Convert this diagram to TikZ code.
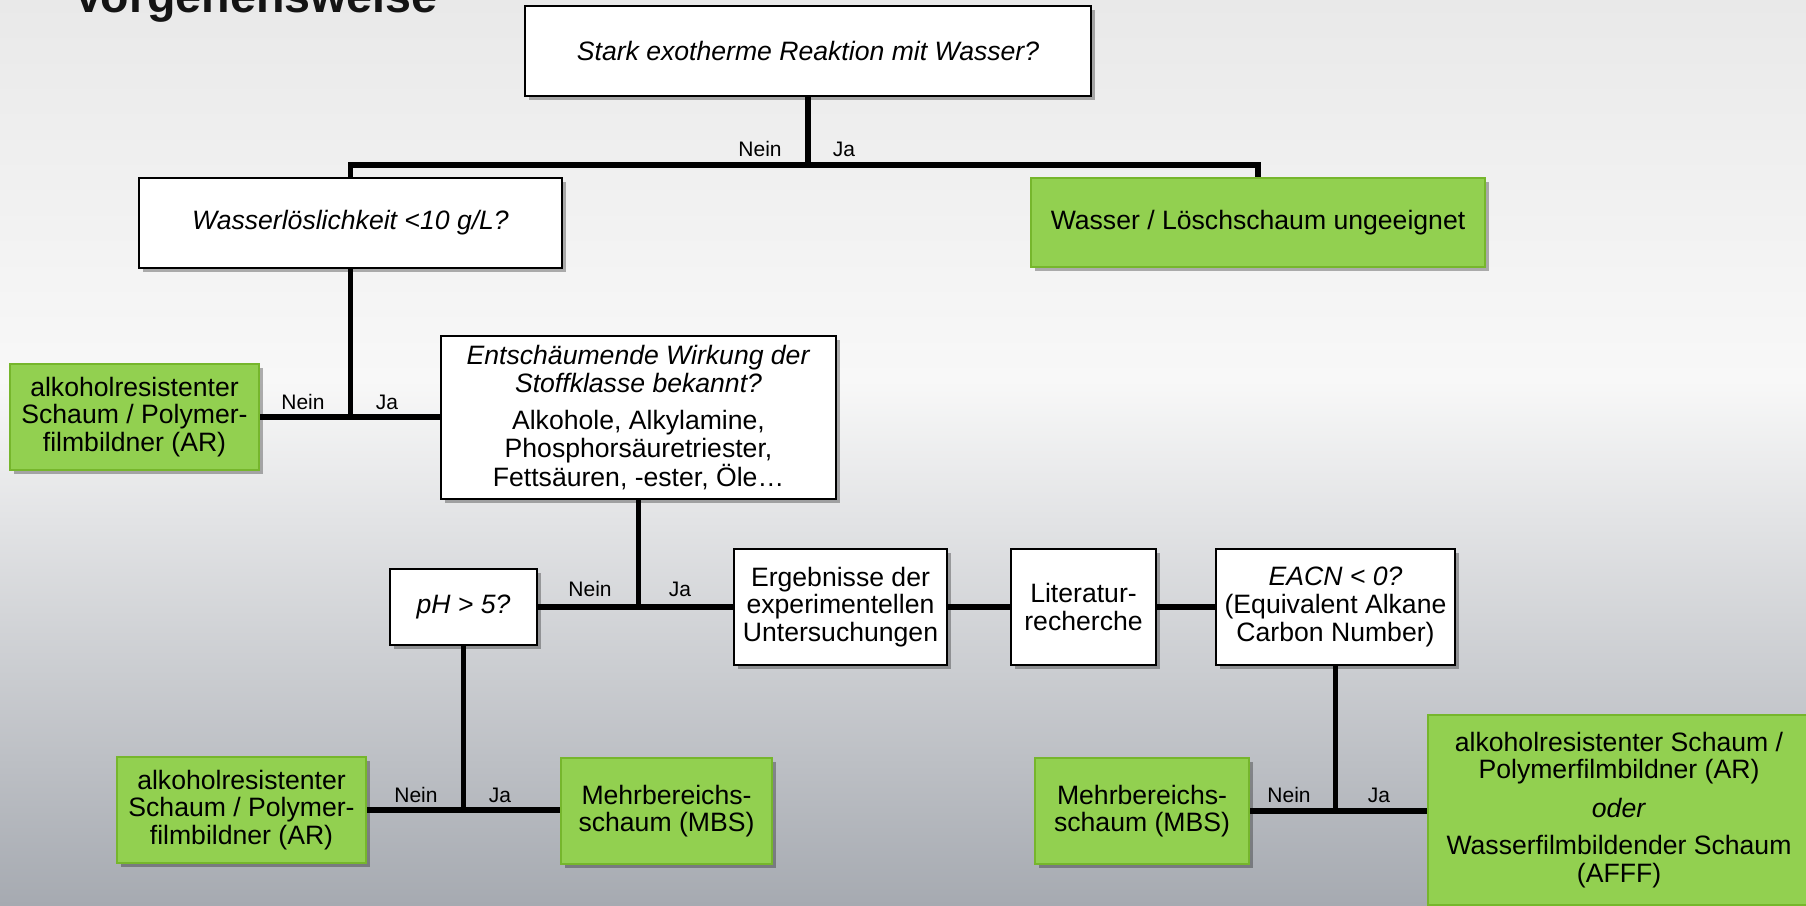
\documentclass[tikz,border=0pt]{standalone}
\usepackage{fontspec}
\setmainfont{Liberation Sans}
\usetikzlibrary{shadows}
\definecolor{grn}{RGB}{146,208,80}
\definecolor{grnb}{RGB}{118,182,44}
\definecolor{bgtop}{RGB}{233,233,233}
\definecolor{bgmid}{RGB}{248,248,248}
\definecolor{bgbot}{RGB}{166,170,177}
\tikzset{
  basebox/.style={font=\fontsize{26.6}{27.6}\selectfont, align=center, inner sep=0pt,
    drop shadow={shadow xshift=3.5pt, shadow yshift=-4pt, opacity=0.3, fill=black}},
  qbox/.style={basebox, draw=black, line width=1.8pt, fill=white},
  gbox/.style={basebox, draw=grnb, line width=2.6pt, fill=grn},
  conn/.style={line width=5.2pt, line join=miter, draw=black},
  lbl/.style={font=\fontsize{21}{24}\selectfont, inner sep=0pt}
}
\begin{document}
\begin{tikzpicture}[x=1pt,y=1pt]
\clip (0,0) rectangle (1806,-905);
\shade[top color=bgtop, bottom color=bgmid] (0,0) rectangle (1806,-380);
\shade[top color=bgmid, bottom color=bgbot] (0,-380) rectangle (1806,-905);

\node[anchor=base west, inner sep=0pt, font=\fontsize{46.6}{50}\selectfont\bfseries, text=black!92] (title) at (73,-12) {Vorgehensweise};

% nodes
\node[qbox, minimum width=566, minimum height=90] (q1) at (808,-51) {\textit{Stark exotherme Reaktion mit Wasser?}};
\node[gbox, minimum width=454, minimum height=89] (w) at (1258,-222.5) {Wasser / Löschschaum ungeeignet};
\node[qbox, minimum width=423, minimum height=90] (q2) at (350.5,-223) {\textit{Wasserlöslichkeit <10 g/L?}};
\node[gbox, minimum width=249, minimum height=106] (ar1) at (134.5,-417) {alkoholresistenter\\Schaum / Polymer-\\filmbildner (AR)};
\node[qbox, minimum width=395, minimum height=163] (q3) at (638.5,-417.5) {\textit{Entschäumende Wirkung der}\\\textit{Stoffklasse bekannt?}\\[10pt]Alkohole, Alkylamine,\\Phosphorsäuretriester,\\Fettsäuren, -ester, Öle…};
\node[qbox, minimum width=147, minimum height=76] (ph) at (463.5,-607) {\textit{pH > 5?}};
\node[qbox, minimum width=213, minimum height=116] (erg) at (840.5,-607) {Ergebnisse der\\experimentellen\\Untersuchungen};
\node[qbox, minimum width=145, minimum height=116] (lit) at (1083.5,-607) {Literatur-\\recherche};
\node[qbox, minimum width=239, minimum height=116] (eacn) at (1335.5,-607) {\textit{EACN < 0?}\\(Equivalent Alkane\\Carbon Number)};
\node[gbox, minimum width=249, minimum height=106] (ar2) at (241.5,-810) {alkoholresistenter\\Schaum / Polymer-\\filmbildner (AR)};
\node[gbox, minimum width=211, minimum height=106] (mbs1) at (666.5,-811) {Mehrbereichs-\\schaum (MBS)};
\node[gbox, minimum width=214, minimum height=106] (mbs2) at (1142,-811) {Mehrbereichs-\\schaum (MBS)};
\node[gbox, minimum width=382, minimum height=190] (ar3) at (1619,-810) {alkoholresistenter Schaum /\\Polymerfilmbildner (AR)\\[11pt]\textit{oder}\\[10pt]Wasserfilmbildender Schaum\\(AFFF)};

% junctions
\coordinate (j1) at (808,-165);
\coordinate (j2) at (350.5,-417);
\coordinate (j3) at (638.5,-607);
\coordinate (j4) at (463.5,-811);
\coordinate (j5) at (1335.5,-811);

% connectors
\draw[conn] (q1.south) -- (j1);
\draw[conn] (q2.north) |- (j1) -| (w.north);
\draw[conn] (q2.south) -- (j2);
\draw[conn] (ar1.east) -- (ar1.east -| q3.west);
\draw[conn] (q3.south) -- (j3);
\draw[conn] (ph.east) -- (erg.west);
\draw[conn] (erg.east) -- (lit.west);
\draw[conn] (lit.east) -- (eacn.west);
\draw[conn] (ph.south) -- (j4);
\draw[conn] (ar2.east) -- (ar2.east -| mbs1.west);
\draw[conn] (eacn.south) -- (j5);
\draw[conn] (mbs2.east) -- (mbs2.east -| ar3.west);

% labels
\node[lbl] (n1) at (760,-149) {Nein};
\node[lbl] (y1) at (844,-149) {Ja};
\node[lbl] (n2) at (303,-402) {Nein};
\node[lbl] (y2) at (387,-402) {Ja};
\node[lbl] (n3) at (590,-589) {Nein};
\node[lbl] (y3) at (680,-589) {Ja};
\node[lbl] (n4) at (416,-795) {Nein};
\node[lbl] (y4) at (500,-795) {Ja};
\node[lbl] (n5) at (1289,-795) {Nein};
\node[lbl] (y5) at (1379,-795) {Ja};
\end{tikzpicture}
\end{document}
